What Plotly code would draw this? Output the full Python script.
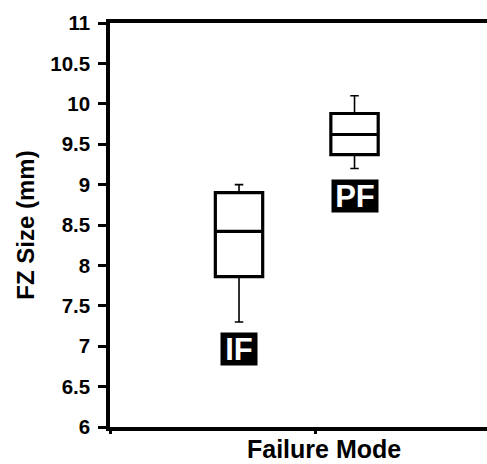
import plotly.graph_objects as go

# ---- data ----
groups = ["IF", "PF"]
mins = [7.3, 9.2]
q1s = [7.86, 9.37]
medians = [8.42, 9.62]
q3s = [8.9, 9.88]
maxs = [9.0, 10.1]
y_ticks = [6, 6.5, 7, 7.5, 8, 8.5, 9, 9.5, 10, 10.5, 11]
x_title = "Failure Mode"
y_title = "FZ Size (mm)"
label_y = [6.97, 8.86]

FONT = "Liberation Sans, Arial, sans-serif"
label_w = {"IF": 36, "PF": 46}

fig = go.Figure()
# thin whiskers
fig.add_trace(go.Box(
    x=groups, q1=q1s, median=medians, q3=q3s,
    lowerfence=mins, upperfence=maxs,
    fillcolor="white", line=dict(color="black", width=1.6),
    whiskerwidth=0.18, width=0.41, boxpoints=False, hoverinfo="skip",
    showlegend=False,
))
# thick box body
fig.add_trace(go.Box(
    x=groups, q1=q1s, median=medians, q3=q3s,
    lowerfence=q1s, upperfence=q3s,
    fillcolor="white", line=dict(color="black", width=3.2),
    whiskerwidth=0, width=0.41, boxpoints=False, hoverinfo="skip",
    showlegend=False,
))
# dummy trace for secondary axis
fig.add_trace(go.Scatter(x=[0], y=[6], xaxis="x2", mode="markers",
                         marker=dict(opacity=0), showlegend=False, hoverinfo="skip"))

for g, ly in zip(groups, label_y):
    fig.add_annotation(x=g, y=ly, text=f"<b>{g}</b>", showarrow=False,
                       font=dict(family=FONT, size=31, color="white"),
                       bgcolor="black", borderpad=0, width=label_w[g], height=32,
                       xref="x", yref="y")

fig.add_annotation(x=(324 - 110) / 377, y=-(449 - 427) / 404, xref="paper", yref="paper",
                   text=f"<b>{x_title}</b>", showarrow=False,
                   xanchor="center", yanchor="middle",
                   font=dict(family=FONT, size=25, color="black"))

fig.update_layout(
    width=487, height=464,
    margin=dict(l=110, r=0, t=23, b=37),
    paper_bgcolor="white", plot_bgcolor="white",
    showlegend=False,
    xaxis=dict(type="category", range=[-1.117, 2.147], showline=True, linewidth=3.5,
               linecolor="black", mirror=True, ticks="", showticklabels=False,
               showgrid=False, zeroline=False, fixedrange=True),
    xaxis2=dict(overlaying="x", side="bottom", range=[0, 1], tickvals=[0, 0.5464],
                ticks="outside", ticklen=6, tickwidth=2.5, tickcolor="black",
                showticklabels=False, showgrid=False, zeroline=False, showline=False),
    yaxis=dict(range=[6, 11], tickvals=y_ticks, ticks="outside", ticklen=8,
               tickwidth=2.5, tickcolor="black", showline=True, linewidth=3.5,
               linecolor="black", showgrid=False, zeroline=False,
               tickfont=dict(family=FONT, size=20.5, color="black", weight="bold"),
               ticklabelstandoff=4,
               title=dict(text=f"<b>{y_title}</b>",
                          font=dict(family=FONT, size=24, color="black"),
                          standoff=10)),
)

fig.write_html("out.html")
